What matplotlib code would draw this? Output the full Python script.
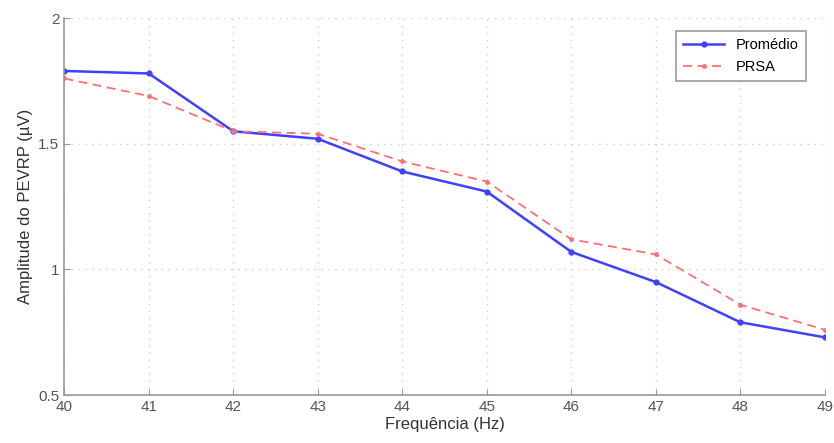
import matplotlib
matplotlib.use("Agg")
import matplotlib.pyplot as plt

freq = [40, 41, 42, 43, 44, 45, 46, 47, 48, 49]
promedio = [1.79, 1.78, 1.55, 1.52, 1.39, 1.31, 1.07, 0.95, 0.79, 0.73]
prsa = [1.76, 1.69, 1.55, 1.54, 1.43, 1.35, 1.12, 1.06, 0.86, 0.76]

plt.rcParams["font.family"] = ["Liberation Sans", "DejaVu Sans"]

fig = plt.figure(figsize=(8.34, 4.43), dpi=100)
ax = fig.add_axes([0.077, 0.108, 0.912, 0.851])

ax.plot(freq, promedio, "-", color="#4040ff", lw=1.8, marker="o", ms=3.5,
        label="Promédio")
ax.plot(freq, prsa, "--", color="#ff7070", lw=1.3, dashes=(5, 3), marker="o",
        ms=2.5, label="PRSA")

ax.set_xlim(40, 49)
ax.set_ylim(0.5, 2)
ax.set_xticks(freq)
ax.set_yticks([0.5, 1, 1.5, 2])
ax.set_yticklabels(["0.5", "1", "1.5", "2"])
ax.grid(True, linestyle=(0, (1, 4)), color="#d0d0d0", lw=1.0)

for s in ["top", "right"]:
    ax.spines[s].set_visible(False)
for s in ["left", "bottom"]:
    ax.spines[s].set_color("#999999")
    ax.spines[s].set_linewidth(1.2)
ax.tick_params(direction="in", colors="#999999", labelcolor="#555555",
               labelsize=11, length=4)

ax.set_xlabel("Frequência (Hz)", fontsize=12, color="#333333", labelpad=2)
ax.set_ylabel("Amplitude do PEVRP (\u00b5V)", fontsize=12, color="#333333")

leg = ax.legend(loc="upper right", bbox_to_anchor=(0.985, 0.985), fontsize=10.5,
                fancybox=False, framealpha=1, edgecolor="#999999",
                handlelength=2.8, borderpad=0.5)
leg.get_frame().set_linewidth(1.2)

fig.savefig("out.png", dpi=100)
